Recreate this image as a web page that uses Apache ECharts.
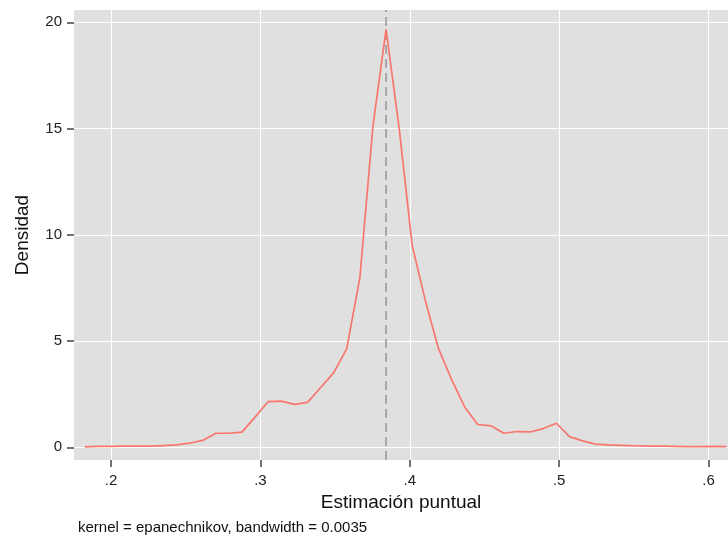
<!DOCTYPE html>
<html>
<head>
<meta charset="utf-8">
<script src="https://cdn.jsdelivr.net/npm/echarts@6/dist/echarts.min.js"></script>
<style>html,body{margin:0;padding:0;background:#fff}#c{width:728px;height:538px}</style>
</head>
<body>
<div id="c"></div>
<script>
var xValues = [0.1824,0.1912,0.1999,0.2087,0.2175,0.2262,0.2350,0.2438,0.2526,0.2613,
  0.2701,0.2789,0.2876,0.2964,0.3052,0.3139,0.3227,0.3315,0.3402,0.3490,
  0.3578,0.3666,0.3753,0.3841,0.3929,0.4016,0.4104,0.4192,0.4279,0.4367,
  0.4455,0.4543,0.4630,0.4718,0.4806,0.4893,0.4981,0.5069,0.5156,0.5244,
  0.5332,0.5420,0.5507,0.5595,0.5683,0.5770,0.5858,0.5946,0.6033,0.6121];
var density = [0.02,0.04,0.04,0.05,0.06,0.05,0.08,0.11,0.19,0.32,
  0.66,0.66,0.71,1.42,2.15,2.17,2.02,2.11,2.80,3.50,
  4.64,8.00,15.10,19.67,15.00,9.50,6.90,4.64,3.20,1.90,
  1.07,1.01,0.66,0.74,0.72,0.88,1.13,0.50,0.30,0.15,
  0.11,0.09,0.07,0.05,0.05,0.04,0.03,0.03,0.04,0.03];
var xTicks = [0.2,0.3,0.4,0.5,0.6];
var yTicks = [0,5,10,15,20];
var pointEstimate = 0.3841;
var xRange = [0.1752, 0.613];
var yRange = [-0.6, 20.58];

var chart = echarts.init(document.getElementById('c'));
var font = 'Liberation Sans, Arial, sans-serif';
chart.setOption({
  animation: false,
  grid: {left: 74, right: 0, top: 10, bottom: 78, show: true, backgroundColor: '#e0e0e0', borderWidth: 0},
  xAxis: {
    type: 'value', min: xRange[0], max: xRange[1],
    name: 'Estimación puntual', nameLocation: 'middle', nameGap: 33,
    nameTextStyle: {fontFamily: font, fontSize: 19, color: '#111'},
    axisLine: {show: false, onZero: false},
    axisTick: {show: true, length: 7, customValues: xTicks, lineStyle: {color: '#444', width: 1.5}},
    axisLabel: {customValues: xTicks, fontFamily: font, fontSize: 15, color: '#222', margin: 13,
      formatter: function (v) { return String(Math.round(v*10)/10).replace(/^0/, ''); }},
    splitLine: {show: true, lineStyle: {color: '#ffffff', width: 1}}
  },
  yAxis: {
    type: 'value', min: yRange[0], max: yRange[1],
    name: 'Densidad', nameLocation: 'middle', nameGap: 42,
    nameTextStyle: {fontFamily: font, fontSize: 19, color: '#111'},
    axisLine: {show: false, onZero: false},
    axisTick: {show: true, length: 7, customValues: yTicks, lineStyle: {color: '#444', width: 1.5}},
    axisLabel: {customValues: yTicks, fontFamily: font, fontSize: 15, color: '#222', margin: 12},
    splitLine: {show: true, lineStyle: {color: '#ffffff', width: 1}}
  },
  series: [{
    type: 'line',
    data: [[pointEstimate, yRange[0]], [pointEstimate, yRange[1]]],
    showSymbol: false, symbol: 'none', silent: true,
    lineStyle: {color: '#a8a8a8', type: [9, 5], width: 2}
  }, {
    type: 'line',
    data: xValues.map(function (x, i) { return [x, density[i]]; }),
    showSymbol: false, symbol: 'none',
    lineStyle: {color: '#f8766d', width: 1.7}
  }],
  graphic: [{
    type: 'text', left: 78, top: 520,
    style: {text: 'kernel = epanechnikov, bandwidth = 0.0035', font: '15px ' + font, fill: '#111'}
  }]
});
</script>
</body>
</html>
